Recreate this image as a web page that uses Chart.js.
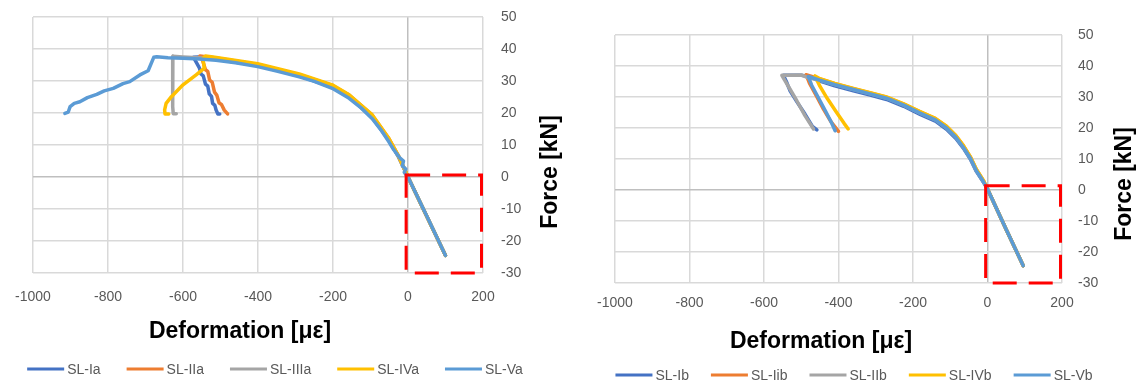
<!DOCTYPE html>
<html><head><meta charset="utf-8">
<script src="https://cdn.jsdelivr.net/npm/chart.js@4.4.1/dist/chart.umd.min.js"></script>
<style>
body{margin:0;background:#fff;width:1141px;height:383px;overflow:hidden;position:relative}
canvas{position:absolute;top:0}
</style></head><body>
<canvas id="cL" width="570" height="383" style="left:0"></canvas>
<canvas id="cR" width="571" height="383" style="left:570px"></canvas>
<script>
// ---- tick labels ----
const xTicks = [-1000, -800, -600, -400, -200, 0, 200];
const yTicks = [-30, -20, -10, 0, 10, 20, 30, 40, 50];
const xTitle = 'Deformation [με]';
const yTitle = 'Force [kN]';

// ---- left panel series names ----
const leftNames = ['SL-Ia', 'SL-IIa', 'SL-IIIa', 'SL-IVa', 'SL-Va'];
// ---- left panel data [deformation, force] ----
const slIa = [[100,-24.5],[50,-12.3],[0,0],[-25,6.2],[-51,11.4],[-96,18.7],[-157,25],[-202,28],[-290,31.6],[-401,34.8],[-512,36.8],[-560,37.5],[-572,37.4],[-563,35.5],[-556,34],[-552,32.2],[-546,31.6],[-540,29],[-534,28.4],[-530,26],[-524,25.2],[-521,23],[-515,22.4],[-512,21],[-507,19.7],[-502,19.7]];
const slIIa = [[100,-24.5],[50,-12.3],[0,0],[-25,6.5],[-51,12],[-96,19.4],[-157,25.6],[-202,28.6],[-290,32],[-401,35.2],[-512,37.2],[-555,37.8],[-548,36.5],[-540,33.5],[-534,33],[-529,30.3],[-522,29.6],[-516,26.5],[-510,25.6],[-504,23.2],[-497,22.6],[-490,20.9],[-481,19.7]];
const slIIIa = [[100,-24.5],[50,-12.3],[0,0],[-25,6.3],[-51,11.8],[-96,19],[-157,25.2],[-202,28.3],[-290,31.8],[-401,35],[-512,36.9],[-560,37.3],[-600,37.5],[-627,37.7],[-628,30],[-627,22],[-626,19.8],[-618,19.8]];
const slIVa = [[100,-24.5],[50,-12.3],[0,0],[-25,6.5],[-51,12],[-96,19.5],[-157,25.7],[-202,28.8],[-290,32.2],[-401,35.4],[-480,36.8],[-520,37.5],[-540,37.8],[-547,37],[-543,34],[-565,31.9],[-600,28.8],[-631,25.1],[-645,23],[-649,21],[-648,19.7],[-638,19.7]];
const slVa = [[100,-24.5],[50,-12.2],[0,0],[-3,0.3],[-10,1.5],[-6,2.5],[-15,3.5],[-12,5],[-22,6],[-38,8.5],[-51,11],[-70,14.4],[-96,18.3],[-125,21.6],[-157,24.6],[-202,27.7],[-250,29.9],[-290,31.3],[-350,33.1],[-401,34.5],[-460,35.7],[-512,36.5],[-556,36.9],[-600,37.1],[-640,37.3],[-670,37.6],[-678,37.4],[-693,33.2],[-715,31.9],[-742,29.8],[-760,29.2],[-786,27.7],[-810,26.9],[-830,25.8],[-855,24.8],[-875,23.5],[-890,23],[-901,22],[-906,20.3],[-915,19.9]];

// ---- right panel series names ----
const rightNames = ['SL-Ib', 'SL-Iib', 'SL-IIb', 'SL-IVb', 'SL-Vb'];
// ---- right panel data [deformation, force] ----
const slIb = [[96,-24.4],[48,-12.2],[0,0.3],[-10,2.3],[-30,6],[-45,9.7],[-65,13.5],[-85,16.6],[-110,19.6],[-140,22.2],[-181,24.4],[-225,27],[-271,29.2],[-315,30.6],[-360,32],[-410,33.6],[-450,35.1],[-476,36.5],[-500,37],[-548,37],[-540,35],[-530,32],[-512,28.5],[-490,24.5],[-470,20.5],[-458,19.4]];
const slIib = [[96,-24.4],[48,-12.2],[0,0.3],[-10,2.8],[-30,6.6],[-45,10.4],[-65,14.3],[-85,17.5],[-110,20.5],[-140,23],[-181,25.2],[-225,27.7],[-271,29.9],[-315,31.3],[-360,32.7],[-410,34.3],[-450,35.8],[-487,37.2],[-478,34.5],[-460,30.5],[-440,26],[-420,22],[-400,18.9]];
const slIIb = [[96,-24.4],[48,-12.2],[0,0.3],[-10,2.5],[-30,6.2],[-45,10],[-65,13.8],[-85,17],[-110,20],[-140,22.6],[-181,24.8],[-225,27.4],[-271,29.6],[-315,31],[-360,32.4],[-410,34],[-450,35.4],[-481,36.2],[-500,37.1],[-552,37],[-545,35.5],[-530,32.5],[-512,28.8],[-490,24],[-467,19.7]];
const slIVb = [[96,-24.4],[48,-12.2],[0,0.3],[-10,2.9],[-30,6.7],[-45,10.5],[-65,14.4],[-85,17.6],[-110,20.6],[-140,23.1],[-181,25.3],[-225,27.8],[-271,30],[-315,31.4],[-360,32.8],[-410,34.4],[-450,35.9],[-463,36.8],[-450,33.5],[-430,29.5],[-405,25],[-385,21.5],[-374,19.7]];
const slVb = [[96,-24.4],[48,-12.2],[0,0.3],[-10,2.5],[-30,6.2],[-45,10],[-65,13.8],[-85,17],[-110,20],[-140,22.6],[-181,24.8],[-225,27.4],[-271,29.6],[-315,31],[-360,32.4],[-410,34],[-450,35.4],[-481,36.6],[-472,33.8],[-455,30],[-435,25.5],[-420,22],[-409,19.1]];

// ---- highlighted region (red dashed box) [xMin, yMax, xMax, yMin] ----
const boxLeft = [-5, 0.6, 196, -30];
const boxRight = [-5, 1.4, 196, -30];

const colors = ['#4472C4', '#ED7D31', '#A5A5A5', '#FFC000', '#5B9BD5'];
const FONT = '"Liberation Sans", Arial, sans-serif';

const overlay = {
  id: 'overlay',
  afterDatasetsDraw(chart, args, o) {
    const {ctx, scales: {x, y}} = chart;
    const b = o.box;
    ctx.save();
    ctx.strokeStyle = '#FF0000';
    ctx.lineWidth = 3;
    ctx.setLineDash([24, 12]);
    const x0 = x.getPixelForValue(b[0]), y0 = y.getPixelForValue(b[1]);
    const x1 = x.getPixelForValue(b[2]), y1 = y.getPixelForValue(b[3]);
    ctx.beginPath();
    ctx.moveTo(x0, y0); ctx.lineTo(x1, y0); ctx.lineTo(x1, y1); ctx.lineTo(x0, y1); ctx.closePath();
    ctx.stroke();
    ctx.restore();
  },
  afterDraw(chart, args, o) {
    const ctx = chart.ctx;
    ctx.save();
    // axis titles
    ctx.fillStyle = '#000';
    ctx.font = 'bold 23px ' + FONT;
    ctx.textAlign = 'center';
    ctx.textBaseline = 'middle';
    ctx.fillText(xTitle, o.xTitlePos[0], o.xTitlePos[1]);
    ctx.translate(o.yTitlePos[0], o.yTitlePos[1]);
    ctx.rotate(-Math.PI / 2);
    ctx.fillText(yTitle, 0, 0);
    ctx.restore();
    // legend
    ctx.save();
    ctx.font = '14px ' + FONT;
    ctx.textBaseline = 'middle';
    ctx.textAlign = 'left';
    const lineLen = 37, gap = 3, itemGap = o.itemGap;
    const ds = chart.data.datasets;
    let total = 0;
    ds.forEach((d, i) => { total += lineLen + gap + ctx.measureText(d.label).width + (i < ds.length - 1 ? itemGap : 0); });
    let cx = o.legendCenter[0] - total / 2;
    const ly = o.legendCenter[1];
    ds.forEach((d) => {
      ctx.strokeStyle = d.borderColor;
      ctx.lineWidth = 3;
      ctx.beginPath(); ctx.moveTo(cx, ly); ctx.lineTo(cx + lineLen, ly); ctx.stroke();
      cx += lineLen + gap;
      ctx.fillStyle = '#595959';
      ctx.fillText(d.label, cx, ly + 1);
      cx += ctx.measureText(d.label).width + itemGap;
    });
    ctx.restore();
  }
};

function makeChart(id, names, series, cfg) {
  const datasets = series.map((s, i) => ({
    label: names[i], data: s, borderColor: colors[i], backgroundColor: colors[i],
    borderWidth: 3.5, pointRadius: 0, showLine: true, tension: 0, order: series.length - i,
    borderJoinStyle: 'round', borderCapStyle: 'round'
  }));
  const gridColor = (ctx) => (ctx.tick && ctx.tick.value === 0) ? '#BFBFBF' : '#D9D9D9';
  return new Chart(document.getElementById(id), {
    type: 'scatter',
    data: {datasets},
    options: {
      responsive: false, animation: false, devicePixelRatio: 1,
      layout: {padding: cfg.padding},
      plugins: {legend: {display: false}, tooltip: {enabled: false}, overlay: cfg.overlay},
      scales: {
        x: {
          type: 'linear', min: xTicks[0], max: xTicks[xTicks.length - 1],
          afterBuildTicks: (s) => { s.ticks = xTicks.map(v => ({value: v})); },
          ticks: {callback: (v) => String(v), color: '#595959', font: {family: FONT, size: 14}, padding: cfg.xPad, maxRotation: 0},
          grid: {color: gridColor, lineWidth: 1.5, drawTicks: false},
          border: {display: false},
          afterFit: (s) => { s.height = cfg.xH; s.paddingLeft = 0; s.paddingRight = 0; }
        },
        y: {
          type: 'linear', position: 'right', min: yTicks[0], max: yTicks[yTicks.length - 1],
          afterBuildTicks: (s) => { s.ticks = yTicks.map(v => ({value: v})); },
          ticks: {callback: (v) => String(v), color: '#595959', font: {family: FONT, size: 14}, padding: cfg.yPad},
          grid: {color: gridColor, lineWidth: 1.5, drawTicks: false},
          border: {display: false},
          afterFit: (s) => { s.width = cfg.yW; s.paddingTop = 0; s.paddingBottom = 0; }
        }
      }
    },
    plugins: [overlay]
  });
}

makeChart('cL', leftNames, [slIa, slIIa, slIIIa, slIVa, slVa], {
  padding: {left: 33, top: 17, right: 0, bottom: 0},
  xH: 110, yW: 87, xPad: 16, yPad: 18,
  overlay: {box: boxLeft, xTitlePos: [240, 332], yTitlePos: [551, 172], legendCenter: [275, 369], itemGap: 26}
});
makeChart('cR', rightNames, [slIb, slIib, slIIb, slIVb, slVb], {
  padding: {left: 45, top: 35, right: 0, bottom: 0},
  xH: 100, yW: 79, xPad: 12, yPad: 16,
  overlay: {box: boxRight, xTitlePos: [251, 342], yTitlePos: [555, 184], legendCenter: [284, 375], itemGap: 22}
});
</script>
</body></html>
